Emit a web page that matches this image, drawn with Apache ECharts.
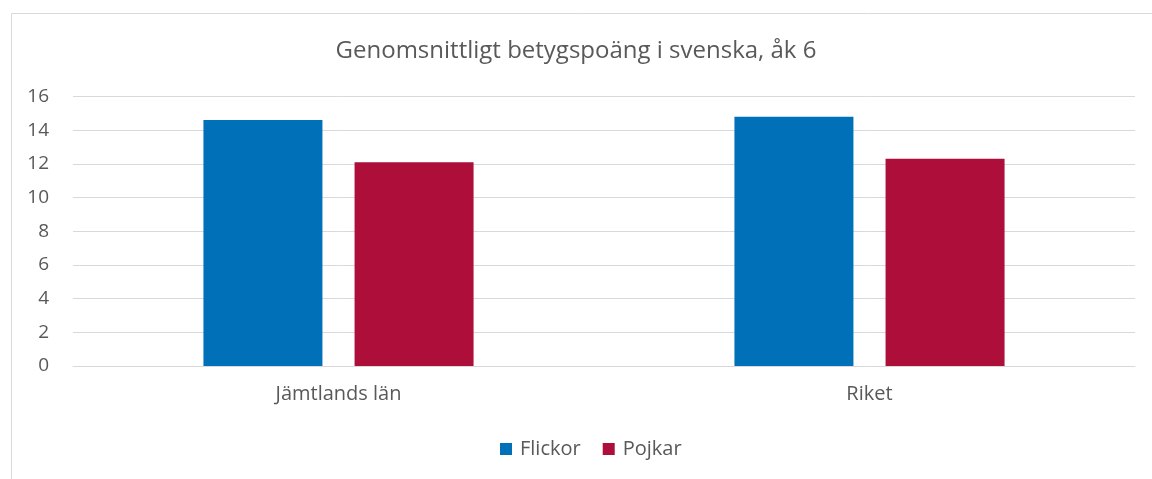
<!DOCTYPE html>
<html><head><meta charset="utf-8">
<script src="https://cdn.jsdelivr.net/npm/echarts@6/dist/echarts.min.js"></script>
<style>html,body{margin:0;padding:0;background:#fff}#c{width:1152px;height:479px}</style>
</head><body><div id="c"></div>
<script>
const categories = ['Jämtlands län', 'Riket'];
const flickor = [14.6, 14.8];
const pojkar = [12.1, 12.3];
const yTicks = { min: 0, max: 16, interval: 2 };
const seriesNames = ['Flickor', 'Pojkar'];

const font = '"Open Sans", "DejaVu Sans", sans-serif';
const chart = echarts.init(document.getElementById('c'), null, { renderer: 'canvas' });
chart.setOption({
  animation: false,
  backgroundColor: '#fff',
  graphic: [{
    type: 'rect', left: 9, top: 11, silent: true,
    shape: { width: 1200, height: 500 },
    style: { fill: 'none', stroke: '#d9d9d9', lineWidth: 1 }
  }],
  title: {
    text: 'Genomsnittligt betygspoäng i svenska, åk 6',
    left: 'center', top: 34,
    textStyle: { fontFamily: font, fontSize: 24, fontWeight: 'normal', color: '#595959' }
  },
  legend: {
    data: seriesNames, bottom: 15, left: 495,
    icon: 'rect', itemWidth: 12, itemHeight: 12, itemGap: 22,
    textStyle: { fontFamily: font, fontSize: 20, color: '#595959', padding: [0, 0, 0, 3] }
  },
  grid: { left: 73, right: 17, top: 96.5, bottom: 113 },
  xAxis: {
    type: 'category', data: categories,
    axisLine: { lineStyle: { color: '#d9d9d9' } },
    axisTick: { show: false },
    axisLabel: { fontFamily: font, fontSize: 20, color: '#595959', margin: 18 }
  },
  yAxis: {
    type: 'value', min: yTicks.min, max: yTicks.max, interval: yTicks.interval,
    axisLine: { show: false }, axisTick: { show: false },
    splitLine: { lineStyle: { color: '#d9d9d9', width: 1 } },
    axisLabel: { fontFamily: font, fontSize: 19, color: '#595959', margin: 24 }
  },
  series: [
    { name: seriesNames[0], type: 'bar', data: flickor, barWidth: 119, barGap: '27%',
      itemStyle: { color: '#0070b8' } },
    { name: seriesNames[1], type: 'bar', data: pojkar, barWidth: 119,
      itemStyle: { color: '#ad0e3a' } }
  ]
});
</script></body></html>
